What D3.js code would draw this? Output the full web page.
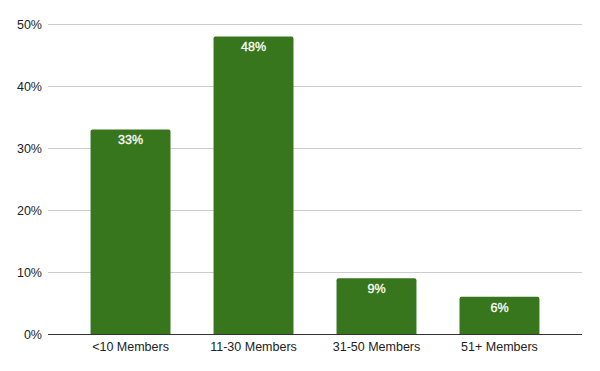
<!DOCTYPE html>
<html>
<head>
<meta charset="utf-8">
<script src="https://cdn.jsdelivr.net/npm/d3@7"></script>
<style>
  body { margin: 0; background: #fff; }
  svg { display: block; font-family: "Liberation Sans", Arial, sans-serif; }
</style>
</head>
<body>
<svg id="chart" width="600" height="371"></svg>
<script>
const categories = ["<10 Members", "11-30 Members", "31-50 Members", "51+ Members"];
const values = [33, 48, 9, 6];
const yTicks = [0, 10, 20, 30, 40, 50];

const svg = d3.select("#chart");
const margin = { top: 24, right: 18, bottom: 37, left: 48 };
const width = +svg.attr("width") - margin.left - margin.right;
const height = +svg.attr("height") - margin.top - margin.bottom;

const x = d3.scaleBand()
  .domain(categories)
  .range([0, width])
  .paddingInner(0.35)
  .paddingOuter(0.346);

const y = d3.scaleLinear()
  .domain([0, 50])
  .range([height, 0]);

const g = svg.append("g")
  .attr("transform", `translate(${margin.left},${margin.top})`);

// gridlines
g.append("g")
  .selectAll("line")
  .data(yTicks.filter(d => d > 0))
  .enter()
  .append("line")
  .attr("x1", 0)
  .attr("x2", width)
  .attr("y1", d => Math.round(y(d)) + 0.5)
  .attr("y2", d => Math.round(y(d)) + 0.5)
  .attr("stroke", "#cccccc")
  .attr("stroke-width", 1);

// y axis labels
const yAxis = g.append("g")
  .call(d3.axisLeft(y).tickValues(yTicks).tickFormat(d => d + "%").tickSize(0).tickPadding(6));
yAxis.select(".domain").remove();
yAxis.selectAll("text")
  .attr("font-size", 12.5)
  .attr("fill", "#222")
  .style("font-family", "Liberation Sans, Arial, sans-serif");

// bars with rounded tops
const r = 2;
g.selectAll(".bar")
  .data(values)
  .enter()
  .append("path")
  .attr("class", "bar")
  .attr("fill", "#38761d")
  .attr("d", (d, i) => {
    const x0 = x(categories[i]);
    const x1 = x0 + x.bandwidth();
    const y0 = y(d);
    const yb = y(0);
    return `M${x0},${yb}V${y0 + r}Q${x0},${y0} ${x0 + r},${y0}H${x1 - r}Q${x1},${y0} ${x1},${y0 + r}V${yb}Z`;
  });

// value labels
g.selectAll(".label")
  .data(values)
  .enter()
  .append("text")
  .attr("class", "label")
  .attr("x", (d, i) => x(categories[i]) + x.bandwidth() / 2)
  .attr("y", d => y(d) + 15)
  .attr("text-anchor", "middle")
  .attr("font-size", 12.5)
  .attr("fill", "#ffffff")
  .attr("stroke", "#ffffff")
  .attr("stroke-width", 0.3)
  .text(d => d + "%");

// baseline
g.append("line")
  .attr("x1", 0)
  .attr("x2", width)
  .attr("y1", Math.round(y(0)) + 0.5)
  .attr("y2", Math.round(y(0)) + 0.5)
  .attr("stroke", "#333333")
  .attr("stroke-width", 1);

// x axis labels
const xAxis = g.append("g")
  .attr("transform", `translate(0,${height})`)
  .call(d3.axisBottom(x).tickSize(0).tickPadding(8));
xAxis.select(".domain").remove();
xAxis.selectAll("text")
  .attr("font-size", 12.5)
  .attr("fill", "#222")
  .style("font-family", "Liberation Sans, Arial, sans-serif");
</script>
</body>
</html>
